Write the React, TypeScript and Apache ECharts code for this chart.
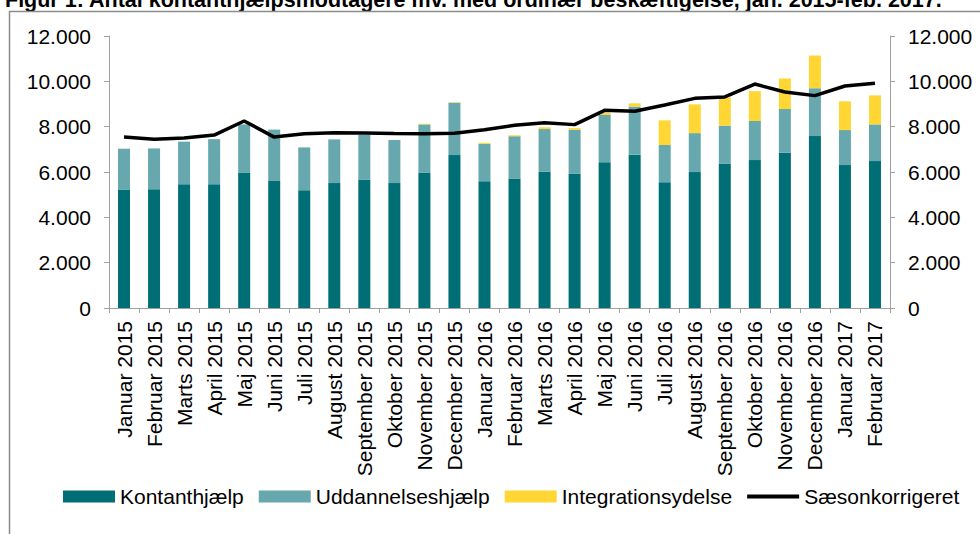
import React, { useEffect, useRef } from "react";
import * as echarts from "echarts";

const categories = [
  "Januar 2015", "Februar 2015", "Marts 2015", "April 2015", "Maj 2015", "Juni 2015",
  "Juli 2015", "August 2015", "September 2015", "Oktober 2015", "November 2015", "December 2015",
  "Januar 2016", "Februar 2016", "Marts 2016", "April 2016", "Maj 2016", "Juni 2016",
  "Juli 2016", "August 2016", "September 2016", "Oktober 2016", "November 2016", "December 2016",
  "Januar 2017", "Februar 2017",
];

const kontanthjaelp = [
  5230, 5240, 5460, 5460, 5980, 5600, 5200, 5510, 5670, 5510, 5980, 6745,
  5590, 5715, 6010, 5935, 6435, 6765, 5550, 5995, 6380, 6525, 6850, 7585,
  6305, 6480,
];

const uddannelseshjaelp = [
  1800, 1800, 1880, 1990, 2120, 2270, 1885, 1930, 1970, 1900, 2120, 2310,
  1650, 1860, 1885, 1930, 2080, 2120, 1640, 1720, 1665, 1725, 1930, 2110,
  1545, 1620,
];

const integrationsydelse = [
  0, 0, 0, 0, 0, 0, 0, 0, 0, 0, 30, 20,
  50, 45, 75, 70, 90, 145, 1090, 1270, 1240, 1315, 1345, 1445,
  1270, 1280,
];

const saesonkorrigeret = [
  7540, 7440, 7500, 7630, 8250, 7540, 7690, 7735, 7720, 7700, 7690, 7705,
  7860, 8060, 8175, 8090, 8720, 8680, 8955, 9250, 9310, 9880, 9530, 9370,
  9795, 9915,
];

const yTicks = { min: 0, max: 12000, interval: 2000 };

const TITLE = "Figur 1: Antal kontanthjælpsmodtagere mv. med ordinær beskæftigelse, jan. 2015-feb. 2017.";
const FONT = "'Liberation Sans', Arial, sans-serif";

const fmt = (v: number) => String(v).replace(/\B(?=(\d{3})+(?!\d))/g, ".");

export default function App() {
  const ref = useRef<HTMLDivElement>(null);

  useEffect(() => {
    document.body.style.margin = "0";
    if (!ref.current) return;
    const chart = echarts.init(ref.current, undefined, { renderer: "svg" });
    const axisColor = "#a0a0a0";
    const yAxisBase = {
      type: "value" as const,
      min: yTicks.min,
      max: yTicks.max,
      interval: yTicks.interval,
      splitLine: { show: false },
      axisLine: { show: true, lineStyle: { color: axisColor, width: 1 } },
      axisTick: { show: true, length: 5, lineStyle: { color: axisColor } },
      axisLabel: {
        formatter: (v: number) => fmt(v),
        color: "#000",
        fontSize: 21,
        fontFamily: FONT,
        margin: 18,
      },
    };
    chart.setOption({
      animation: false,
      backgroundColor: "#fff",
      textStyle: { fontFamily: FONT },
      graphic: [
        {
          type: "text",
          left: 5,
          top: -11,
          style: {
            text: TITLE,
            fontSize: 21.5,
            fontWeight: "bold",
            fontFamily: FONT,
            fill: "#000",
          },
        },
        {
          type: "line",
          shape: { x1: 9, y1: 11.5, x2: 980, y2: 11.5 },
          style: { stroke: "#8c8c8c", lineWidth: 1.5 },
        },
        {
          type: "line",
          shape: { x1: 9.5, y1: 11, x2: 9.5, y2: 534 },
          style: { stroke: "#8c8c8c", lineWidth: 1.5 },
        },
      ],
      grid: { left: 109, right: 90, top: 36, bottom: 226, containLabel: false },
      legend: {
        left: 63,
        top: 486,
        padding: 0,
        itemWidth: 52,
        itemHeight: 12,
        itemGap: 15,
        symbolKeepAspect: true,
        textStyle: { fontSize: 21, color: "#000", fontFamily: FONT },
        data: [
          { name: "Kontanthjælp", icon: "rect" },
          { name: "Uddannelseshjælp", icon: "rect" },
          { name: "Integrationsydelse", icon: "rect" },
          {
            name: "Sæsonkorrigeret",
            icon: "path://M0,0H52V4H0Z",
            itemStyle: { color: "#000" },
          },
        ],
      },
      xAxis: {
        type: "category",
        data: categories,
        boundaryGap: true,
        axisLine: { show: true, lineStyle: { color: axisColor, width: 1 } },
        axisTick: { show: true, length: 5, interval: 0, lineStyle: { color: axisColor } },
        axisLabel: {
          interval: 0,
          rotate: 90,
          fontSize: 21,
          color: "#000",
          fontFamily: FONT,
          margin: 13,
        },
      },
      yAxis: [
        { ...yAxisBase, position: "left" },
        { ...yAxisBase, position: "right" },
      ],
      series: [
        {
          name: "Kontanthjælp",
          type: "bar",
          stack: "total",
          barWidth: 12,
          data: kontanthjaelp,
          itemStyle: { color: "#006e75" },
        },
        {
          name: "Uddannelseshjælp",
          type: "bar",
          stack: "total",
          barWidth: 12,
          data: uddannelseshjaelp,
          itemStyle: { color: "#66a8ae" },
        },
        {
          name: "Integrationsydelse",
          type: "bar",
          stack: "total",
          barWidth: 12,
          data: integrationsydelse,
          itemStyle: { color: "#ffd633" },
        },
        {
          name: "Sæsonkorrigeret",
          type: "line",
          yAxisIndex: 1,
          data: saesonkorrigeret,
          symbol: "none",
          z: 5,
          lineStyle: { color: "#000", width: 3.5 },
          itemStyle: { color: "#000" },
        },
      ],
    });
    return () => chart.dispose();
  }, []);

  return <div ref={ref} style={{ width: 980, height: 534 }} />;
}
